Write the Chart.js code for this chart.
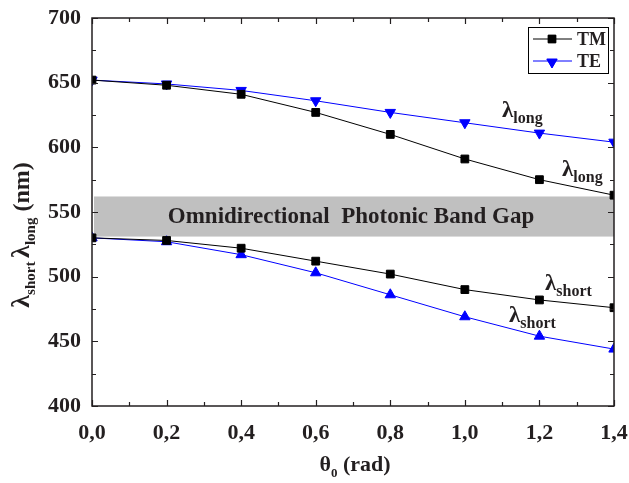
<!DOCTYPE html>
<html>
<head>
<meta charset="utf-8">
<script src="https://cdn.jsdelivr.net/npm/chart.js@4.4.0/dist/chart.umd.min.js"></script>
<style>
  html, body { margin: 0; padding: 0; background: #fff; }
  #wrap { width: 629px; height: 483px; }
</style>
</head>
<body>
<div id="wrap"><canvas id="gapChart" width="629" height="483"></canvas></div>
<script>
// angle of incidence (rad)
const theta = [0, 0.2, 0.4, 0.6, 0.8, 1.0, 1.2, 1.4];
// band edges in nm
const tmLong  = [652, 648, 641, 627, 610, 591, 575, 563];
const tmShort = [530, 528, 522, 512, 502, 490, 482, 476];
const teLong  = [652, 649, 644, 636, 627, 619, 611, 604];
const teShort = [530, 527, 517, 503, 486, 469, 454, 444];
// omnidirectional gap limits
const gapRange = [531, 562];
const xTicks = [0, 0.2, 0.4, 0.6, 0.8, 1.0, 1.2, 1.4];
const yTicks = [400, 450, 500, 550, 600, 650, 700];

const FONT = "'Liberation Serif', 'Times New Roman', serif";
const INK = "#231f20";

const toPts = (ys) => ys.map((y, i) => ({ x: theta[i], y: y }));

// draws "main" + subscript, starting at x (left), baseline y
function subText(ctx, main, sub, x, y, size, subSize, drop) {
  ctx.font = "bold " + size + "px " + FONT;
  ctx.fillText(main, x, y);
  const w = ctx.measureText(main).width;
  ctx.font = "bold " + subSize + "px " + FONT;
  ctx.fillText(sub, x + w, y + drop);
  return w + ctx.measureText(sub).width;
}

const decor = {
  id: "decor",
  beforeDatasetsDraw(chart) {
    const { ctx, chartArea: a, scales: { x, y } } = chart;
    // grey band
    const yt = y.getPixelForValue(gapRange[1]);
    const yb = y.getPixelForValue(gapRange[0]);
    ctx.save();
    ctx.fillStyle = "#c0c0c0";
    ctx.fillRect(a.left + 2, yt, a.right - a.left - 2, yb - yt);
    ctx.fillStyle = INK;
    ctx.font = "bold 23px " + FONT;
    ctx.textAlign = "center";
    ctx.textBaseline = "middle";
    ctx.fillText("Omnidirectional  Photonic Band Gap", 351, (yt + yb) / 2 + 1);
    ctx.restore();
  },
  afterDatasetsDraw(chart) {
    const { ctx, chartArea: a, scales: { x, y } } = chart;
    ctx.save();
    // frame
    ctx.strokeStyle = INK;
    ctx.lineWidth = 1.5;
    ctx.strokeRect(a.left, a.top, a.right - a.left, a.bottom - a.top);
    // inward ticks, all four sides
    ctx.lineWidth = 1.2;
    ctx.beginPath();
    for (let v = 0; v <= 1.4001; v += 0.1) {
      const px = Math.round(x.getPixelForValue(v)) + 0.5;
      const len = (Math.round(v * 10) % 2 === 0) ? 6 : 4;
      ctx.moveTo(px, a.bottom); ctx.lineTo(px, a.bottom - len);
      ctx.moveTo(px, a.top); ctx.lineTo(px, a.top + len);
    }
    for (let v = 400; v <= 700; v += 25) {
      const py = Math.round(y.getPixelForValue(v)) + 0.5;
      const len = (v % 50 === 0) ? 6 : 4;
      ctx.moveTo(a.left, py); ctx.lineTo(a.left + len, py);
      ctx.moveTo(a.right, py); ctx.lineTo(a.right - len, py);
    }
    ctx.stroke();

    // curve labels
    ctx.fillStyle = INK;
    ctx.textBaseline = "alphabetic";
    subText(ctx, "λ", "long", 502, 117, 23, 16, 6);
    subText(ctx, "λ", "long", 562, 176, 23, 16, 6);
    subText(ctx, "λ", "short", 545, 290, 23, 16, 6);
    subText(ctx, "λ", "short", 509, 322, 23, 16, 6);

    // legend
    ctx.lineWidth = 1;
    ctx.strokeStyle = "#000";
    ctx.strokeRect(528.5, 27.5, 80, 46);
    const rows = [
      { label: "TM", color: "#000", style: "rect", rot: 0, yy: 39 },
      { label: "TE", color: "#0000ff", style: "triangle", rot: 180, yy: 61 }
    ];
    rows.forEach(r => {
      ctx.strokeStyle = r.color;
      ctx.beginPath();
      ctx.moveTo(533, r.yy); ctx.lineTo(572, r.yy);
      ctx.stroke();
      ctx.fillStyle = r.color;
      Chart.helpers.drawPoint(ctx, { pointStyle: r.style, radius: r.style === "rect" ? 5.5 : 6, rotation: r.rot, borderWidth: 1 }, 552, r.yy + (r.rot ? 1 : 0));
      ctx.fill();
      ctx.fillStyle = INK;
      ctx.font = "bold 18px " + FONT;
      ctx.fillText(r.label, 577, r.yy + 6);
    });

    // axis titles
    ctx.fillStyle = INK;
    ctx.font = "bold 22px " + FONT;
    let w = ctx.measureText("θ").width;
    ctx.font = "bold 13px " + FONT;
    w += ctx.measureText("0").width;
    ctx.font = "bold 22px " + FONT;
    w += ctx.measureText(" (rad)").width;
    let sx = 355 - w / 2;
    sx += subText(ctx, "θ", "0", sx, 471, 22, 13, 6);
    ctx.font = "bold 22px " + FONT;
    ctx.fillText(" (rad)", sx, 471);

    ctx.translate(29, 235);
    ctx.rotate(-Math.PI / 2);
    ctx.font = "bold 26px " + FONT;
    const lw = ctx.measureText("λ").width;
    ctx.font = "bold 15px " + FONT;
    const total = 2 * lw + ctx.measureText("short ").width + ctx.measureText("long").width;
    ctx.font = "bold 24px " + FONT;
    const tw = total + ctx.measureText(" (nm)").width;
    let ty = -tw / 2;
    ty += subText(ctx, "λ", "short ", ty, 0, 26, 15, 6);
    ty += subText(ctx, "λ", "long", ty, 0, 26, 15, 6);
    ctx.font = "bold 24px " + FONT;
    ctx.fillText(" (nm)", ty, 0);
    ctx.restore();
  }
};

const line = (data, color, style, rot, r) => ({
  data: toPts(data),
  borderColor: color,
  backgroundColor: color,
  borderWidth: 1,
  pointStyle: style,
  rotation: rot,
  pointRadius: r,
  pointBorderWidth: 1,
  tension: 0
});

new Chart(document.getElementById("gapChart"), {
  type: "line",
  data: {
    datasets: [
      line(tmLong, "#000", "rect", 0, 5.5),
      line(tmShort, "#000", "rect", 0, 5.5),
      line(teLong, "#0000ff", "triangle", 180, 6),
      line(teShort, "#0000ff", "triangle", 0, 6)
    ]
  },
  options: {
    responsive: false,
    animation: false,
    layout: { padding: { top: 18, right: 15, left: 0, bottom: 0 } },
    plugins: { legend: { display: false }, tooltip: { enabled: false } },
    scales: {
      x: {
        type: "linear",
        min: 0, max: 1.4,
        afterBuildTicks: (s) => { s.ticks = xTicks.map(v => ({ value: v })); },
        afterFit: (s) => { s.height = 77; s.paddingLeft = 0; s.paddingRight = 0; },
        grid: { display: false, drawTicks: false },
        border: { display: false },
        ticks: {
          padding: 14,
          color: INK,
          font: { family: FONT, size: 22, weight: "bold" },
          callback: (v) => Number(v).toFixed(1).replace(".", ",")
        }
      },
      y: {
        min: 400, max: 700,
        afterBuildTicks: (s) => { s.ticks = yTicks.map(v => ({ value: v })); },
        afterFit: (s) => { s.width = 92; s.paddingTop = 0; s.paddingBottom = 0; },
        grid: { display: false, drawTicks: false },
        border: { display: false },
        ticks: {
          padding: 11,
          color: INK,
          font: { family: FONT, size: 22, weight: "bold" }
        }
      }
    }
  },
  plugins: [decor]
});
</script>
</body>
</html>
